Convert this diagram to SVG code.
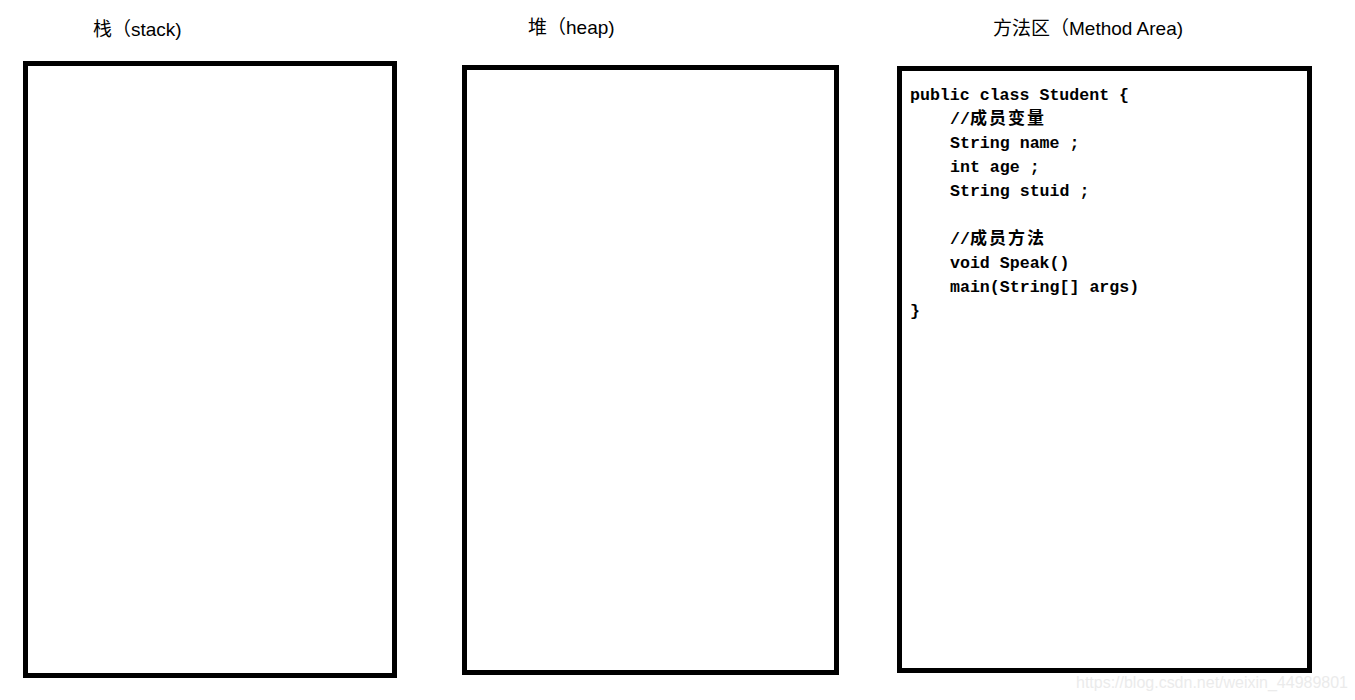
<svg xmlns="http://www.w3.org/2000/svg" width="1355" height="700" viewBox="0 0 1355 700">
  <style>
    .box { fill: #ffffff; stroke: #000000; stroke-width: 5; }
    .title { font-family: "Liberation Sans", "Noto Sans CJK SC", sans-serif; font-size: 19px; fill: #000000; }
    .code { font-family: "Liberation Mono", "Noto Sans CJK SC", monospace; font-size: 16.6px; font-weight: bold; fill: #000000; }
    .cjk { font-family: "Noto Sans CJK SC", sans-serif; font-size: 17px; font-weight: bold; letter-spacing: 2px; }
    .wm { font-family: "Liberation Sans", sans-serif; font-size: 16px; fill: #ebebeb; }
  </style>
  <rect width="1355" height="700" fill="#ffffff"/>

  <g id="stack">
    <rect class="box" x="25.5" y="63.5" width="369" height="612"/>
    <text class="title" x="93" y="36">栈（stack)</text>
  </g>

  <g id="heap">
    <rect class="box" x="464.5" y="67.5" width="372" height="605"/>
    <text class="title" x="528" y="34">堆（heap)</text>
  </g>

  <g id="method-area">
    <rect class="box" x="899.5" y="68.5" width="410" height="602"/>
    <text class="title" x="993" y="35">方法区（Method Area)</text>
    <text class="code" x="910" y="100">public class Student {</text>
    <text class="code" x="950" y="124">//<tspan class="cjk">成员变量</tspan></text>
    <text class="code" x="950" y="148">String name ;</text>
    <text class="code" x="950" y="172">int age ;</text>
    <text class="code" x="950" y="196">String stuid ;</text>
    <text class="code" x="950" y="244">//<tspan class="cjk">成员方法</tspan></text>
    <text class="code" x="950" y="268">void Speak()</text>
    <text class="code" x="950" y="292">main(String[] args)</text>
    <text class="code" x="910" y="316">}</text>
  </g>

  <g id="connectors"></g>

  <text class="wm" x="1076" y="688" textLength="272">https://blog.csdn.net/weixin_44989801</text>
</svg>
